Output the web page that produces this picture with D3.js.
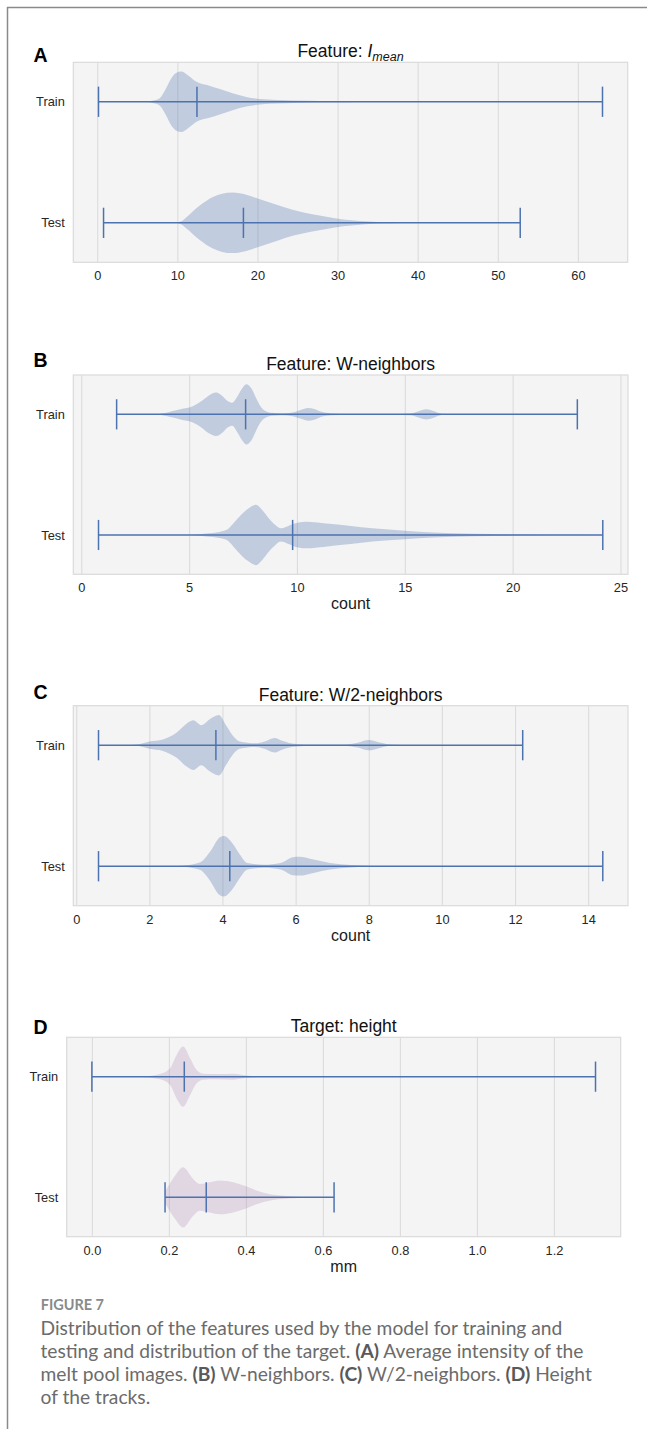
<!DOCTYPE html>
<html>
<head>
<meta charset="utf-8">
<script src="https://cdn.jsdelivr.net/npm/d3@7"></script>
<style>
  body { margin: 0; background: #fff; }
  svg { display: block; }
  .tick text { font-family: "Liberation Sans", Arial, sans-serif; fill: #262626; }
</style>
</head>
<body>
<svg id="fig"></svg>
<script>
(function() {

    const groups = ['Train', 'Test'];

    // [min, median, max] per group
    const imeanTrainStats = [0.16, 12.45, 63.07];
    const imeanTestStats = [0.79, 18.25, 52.8];
    const wnTrainStats = [1.64, 7.62, 23.0];
    const wnTestStats = [0.8, 9.8, 24.18];
    const w2nTrainStats = [0.61, 3.82, 12.21];
    const w2nTestStats = [0.61, 4.2, 14.4];
    const heightTrainStats = [0, 0.24, 1.308];
    const heightTestStats = [0.19, 0.297, 0.629];

    // violin outlines: [value, relative half width]
    const imeanTrainKde = [[0.16,0],[4,0],[6.3,0.01],[7.0,0.04],[7.8,0.12],[8.6,0.45],[9.25,0.78],[9.9,0.96],[10.5,1.0],[11.3,0.88],
        [12.4,0.66],[14.0,0.53],[15.3,0.42],[17.0,0.27],[18.6,0.16],[20.3,0.09],[22.4,0.06],[24.5,0.04],[28.6,0.02],[33,0.005],[40,0],[63.07,0]];
    const imeanTestKde = [[0.79,0],[9.6,0],[10.4,0.04],[11.1,0.18],[12.8,0.57],[14.5,0.86],[15.6,0.96],[16.9,1.0],[18.6,0.93],[20.3,0.78],
        [22.4,0.6],[24.5,0.42],[26.5,0.3],[28.6,0.2],[30.7,0.11],[32.8,0.06],[35,0.025],[38,0.008],[42,0],[52.8,0]];
    const wnTrainKde = [[1.64,0],[3.0,0],[3.7,0.02],[4.2,0.1],[4.6,0.17],[5.2,0.28],[5.6,0.45],[5.9,0.62],[6.25,0.72],[6.55,0.6],
        [6.8,0.43],[7.0,0.38],[7.2,0.55],[7.45,0.85],[7.65,1.0],[7.9,0.85],[8.1,0.55],[8.3,0.28],[8.5,0.13],[8.85,0.05],[9.3,0.03],
        [9.8,0.06],[10.2,0.15],[10.5,0.21],[10.8,0.18],[11.1,0.09],[11.6,0.03],[12.5,0.01],[14.5,0.01],[15.3,0.03],[15.7,0.12],
        [16.0,0.17],[16.3,0.12],[16.7,0.02],[17.5,0],[23.0,0]];
    const wnTestKde = [[0.8,0],[5,0],[5.8,0.05],[6.4,0.1],[6.75,0.17],[7.05,0.38],[7.35,0.62],[7.7,0.85],[8.1,1.0],[8.4,0.82],
        [8.7,0.55],[9.0,0.33],[9.25,0.22],[9.55,0.28],[9.85,0.37],[10.4,0.44],[11.5,0.37],[12.5,0.3],[13.5,0.22],[15,0.14],
        [16.3,0.08],[18.2,0.04],[20.2,0.02],[22,0.005],[24.18,0]];
    const w2nTrainKde = [[0.61,0],[1.3,0],[1.7,0.03],[2.0,0.12],[2.37,0.19],[2.74,0.41],[3.0,0.69],[3.2,0.82],[3.42,0.66],[3.65,0.86],
        [3.9,1.0],[4.11,0.63],[4.29,0.3],[4.47,0.12],[4.9,0.06],[5.15,0.12],[5.42,0.24],[5.65,0.14],[5.95,0.05],[6.5,0.02],
        [7.3,0.02],[7.7,0.08],[8.0,0.17],[8.3,0.09],[8.6,0.02],[9.2,0],[12.21,0]];
    const w2nTestKde = [[0.61,0],[2.4,0],[2.9,0.02],[3.38,0.12],[3.65,0.46],[3.93,0.96],[4.04,1.0],[4.29,0.73],[4.47,0.4],[4.68,0.11],
        [5.13,0.05],[5.59,0.11],[5.93,0.3],[6.1,0.31],[6.49,0.22],[6.94,0.11],[7.51,0.04],[8.1,0.01],[9,0],[14.4,0]];
    const heightTrainKde = [[0,0],[0.1,0],[0.133,0.01],[0.177,0.09],[0.203,0.28],[0.22,0.72],[0.237,1.0],[0.255,0.61],[0.272,0.22],
        [0.289,0.1],[0.324,0.09],[0.367,0.1],[0.402,0.04],[0.44,0.005],[0.5,0],[1.308,0]];
    const heightTestKde = [[0.19,0.2],[0.194,0.28],[0.216,0.72],[0.237,1.0],[0.263,0.61],[0.28,0.44],[0.306,0.5],[0.332,0.56],
        [0.367,0.5],[0.402,0.36],[0.43,0.22],[0.457,0.12],[0.511,0.04],[0.543,0.01],[0.58,0],[0.629,0]];

    const imeanTicks = [0, 10, 20, 30, 40, 50, 60];
    const wnTicks = [0, 5, 10, 15, 20, 25];
    const w2nTicks = [0, 2, 4, 6, 8, 10, 12, 14];
    const heightTicks = [0.0, 0.2, 0.4, 0.6, 0.8, 1.0, 1.2];

    const w = 647;
    const h = 1429;
    const lineColor = '#4c72b0';

    const svg = d3.select('#fig')
        .attr('width', w)
        .attr('height', h);

    // page frame
    svg.append('line').attr('x1', 7).attr('x2', w).attr('y1', 7.5).attr('y2', 7.5)
        .attr('stroke', '#8a8a8a').attr('stroke-width', 1.5);
    svg.append('line').attr('x1', 7.5).attr('x2', 7.5).attr('y1', 7).attr('y2', h)
        .attr('stroke', '#8a8a8a').attr('stroke-width', 1.5);

    const panels = [
        { letter: 'A', title: ['Feature: ', 'I', 'mean'], stats: [imeanTrainStats, imeanTestStats], kde: [imeanTrainKde, imeanTestKde],
          ticks: imeanTicks, fmt: d3.format('d'), xlabel: null, fill: '#4c72b0', opacity: 0.3,
          left: 73.3, right: 627.7, top: 62.3, bottom: 262.3, letterY: 61.7, titleY: 57 },
        { letter: 'B', title: ['Feature: W-neighbors'], stats: [wnTrainStats, wnTestStats], kde: [wnTrainKde, wnTestKde],
          ticks: wnTicks, fmt: d3.format('d'), xlabel: 'count', fill: '#4c72b0', opacity: 0.3,
          left: 73.3, right: 628, top: 375, bottom: 574.3, letterY: 367, titleY: 370 },
        { letter: 'C', title: ['Feature: W/2-neighbors'], stats: [w2nTrainStats, w2nTestStats], kde: [w2nTrainKde, w2nTestKde],
          ticks: w2nTicks, fmt: d3.format('d'), xlabel: 'count', fill: '#4c72b0', opacity: 0.3,
          left: 73.3, right: 628, top: 705.7, bottom: 905.7, letterY: 699.3, titleY: 700.7 },
        { letter: 'D', title: ['Target: height'], stats: [heightTrainStats, heightTestStats], kde: [heightTrainKde, heightTestKde],
          ticks: heightTicks, fmt: d3.format('.1f'), xlabel: 'mm', fill: '#a77fb0', opacity: 0.25,
          left: 66.7, right: 620.7, top: 1037.3, bottom: 1236.7, letterY: 1034, titleY: 1032 }
    ];

    const drawPanel = p => {

        const lo = d3.min(p.stats, s => s[0]);
        const hi = d3.max(p.stats, s => s[2]);
        const pad = (hi - lo) * 0.05;

        const x = d3.scaleLinear().domain([lo - pad, hi + pad]).range([p.left, p.right]);
        const y = d3.scalePoint().domain(groups).range([p.top, p.bottom]).padding(0.326);
        const half = y.step() * 0.25;
        const cap = y.step() * 0.125;

        const g = svg.append('g');

        g.append('rect')
            .attr('x', p.left).attr('y', p.top)
            .attr('width', p.right - p.left).attr('height', p.bottom - p.top)
            .attr('fill', '#f4f4f4').attr('stroke', '#dadada').attr('stroke-width', 1.2);

        // grid
        g.append('g')
            .attr('transform', `translate(0, ${p.bottom})`)
            .call(d3.axisBottom(x).tickValues(p.ticks).tickSize(-(p.bottom - p.top)).tickFormat(''))
            .call(a => a.select('.domain').remove())
            .call(a => a.selectAll('line').attr('stroke', '#dcdcdc').attr('stroke-width', 1.1));

        // tick labels
        g.append('g')
            .attr('transform', `translate(0, ${p.bottom})`)
            .call(d3.axisBottom(x).tickValues(p.ticks).tickSize(0).tickPadding(9).tickFormat(p.fmt))
            .call(a => a.select('.domain').remove())
            .call(a => a.selectAll('text').attr('font-size', 12.8));

        g.append('g')
            .attr('transform', `translate(${p.left}, 0)`)
            .call(d3.axisLeft(y).tickSize(0).tickPadding(8.5))
            .call(a => a.select('.domain').remove())
            .call(a => a.selectAll('text').attr('font-size', 12.8));

        // violins
        groups.forEach((grp, i) => {
            const cy = y(grp);
            const area = d3.area()
                .x(d => x(d[0]))
                .y0(d => cy - d[1] * half)
                .y1(d => cy + d[1] * half)
                .curve(d3.curveMonotoneX);

            g.append('path')
                .datum(p.kde[i])
                .attr('d', area)
                .attr('fill', p.fill)
                .attr('fill-opacity', p.opacity);
        });

        // whiskers, caps and medians
        groups.forEach((grp, i) => {
            const cy = y(grp);
            const s = p.stats[i];
            g.append('line')
                .attr('x1', x(s[0])).attr('x2', x(s[2]))
                .attr('y1', cy).attr('y2', cy)
                .attr('stroke', lineColor).attr('stroke-width', 1.5);
            g.selectAll(null)
                .data(s)
                .enter()
                .append('line')
                .attr('x1', d => x(d)).attr('x2', d => x(d))
                .attr('y1', cy - cap).attr('y2', cy + cap)
                .attr('stroke', lineColor).attr('stroke-width', 1.5);
        });

        // title
        const title = g.append('text')
            .attr('x', (p.left + p.right) / 2)
            .attr('y', p.titleY)
            .attr('text-anchor', 'middle')
            .attr('font-family', '"Liberation Sans", Arial, sans-serif')
            .attr('font-size', 17.5)
            .attr('fill', '#111');
        title.append('tspan').text(p.title[0]);
        if (p.title.length > 1) {
            title.append('tspan').attr('font-style', 'italic').text(p.title[1]);
            title.append('tspan').attr('font-style', 'italic').attr('font-size', 12.5).attr('dy', 3.5).text(p.title[2]);
        }

        // panel letter
        g.append('text')
            .attr('x', 33.5)
            .attr('y', p.letterY)
            .attr('font-family', '"Liberation Sans", Arial, sans-serif')
            .attr('font-weight', 'bold')
            .attr('font-size', 19.5)
            .attr('fill', '#000')
            .text(p.letter);

        if (p.xlabel) {
            g.append('text')
                .attr('x', (p.left + p.right) / 2)
                .attr('y', p.bottom + 35)
                .attr('text-anchor', 'middle')
                .attr('font-family', '"Liberation Sans", Arial, sans-serif')
                .attr('font-size', 16)
                .attr('fill', '#1a1a1a')
                .text(p.xlabel);
        }
    };

    panels.forEach(drawPanel);

    // caption
    const capFont = 'Lato, "Open Sans", sans-serif';

    const figLabel = svg.append('text')
        .attr('x', 40.7)
        .attr('y', 1310)
        .attr('font-family', capFont)
        .attr('font-weight', 'bold')
        .attr('font-size', 14)
        .attr('fill', '#8a8a8a')
        .text('FIGURE 7');
    const figLen = figLabel.node().getComputedTextLength();
    figLabel.attr('font-size', 14 * 63.3 / figLen);

    const captionLines = [
        [['Distribution of the features used by the model for training and', false]],
        [['testing and distribution of the target. ', false], ['(A)', true], [' Average intensity of the', false]],
        [['melt pool images. ', false], ['(B)', true], [' W-neighbors. ', false], ['(C)', true], [' W/2-neighbors. ', false], ['(D)', true], [' Height', false]],
        [['of the tracks.', false]]
    ];
    const captionY = [1335, 1358, 1381, 1403.5];

    const caption = svg.append('g')
        .attr('font-family', capFont)
        .attr('font-size', 16)
        .style('white-space', 'pre');

    captionLines.forEach((line, i) => {
        const t = caption.append('text')
            .attr('x', 40.5)
            .attr('y', captionY[i])
            .attr('fill', '#6b6b6b');
        line.forEach(part => {
            t.append('tspan')
                .attr('font-weight', part[1] ? 'bold' : 'normal')
                .attr('fill', part[1] ? '#595959' : '#6b6b6b')
                .text(part[0]);
        });
    });

    const firstLen = caption.select('text').node().getComputedTextLength();
    caption.attr('font-size', 16 * 522 / firstLen);

})();
</script>
</body>
</html>
